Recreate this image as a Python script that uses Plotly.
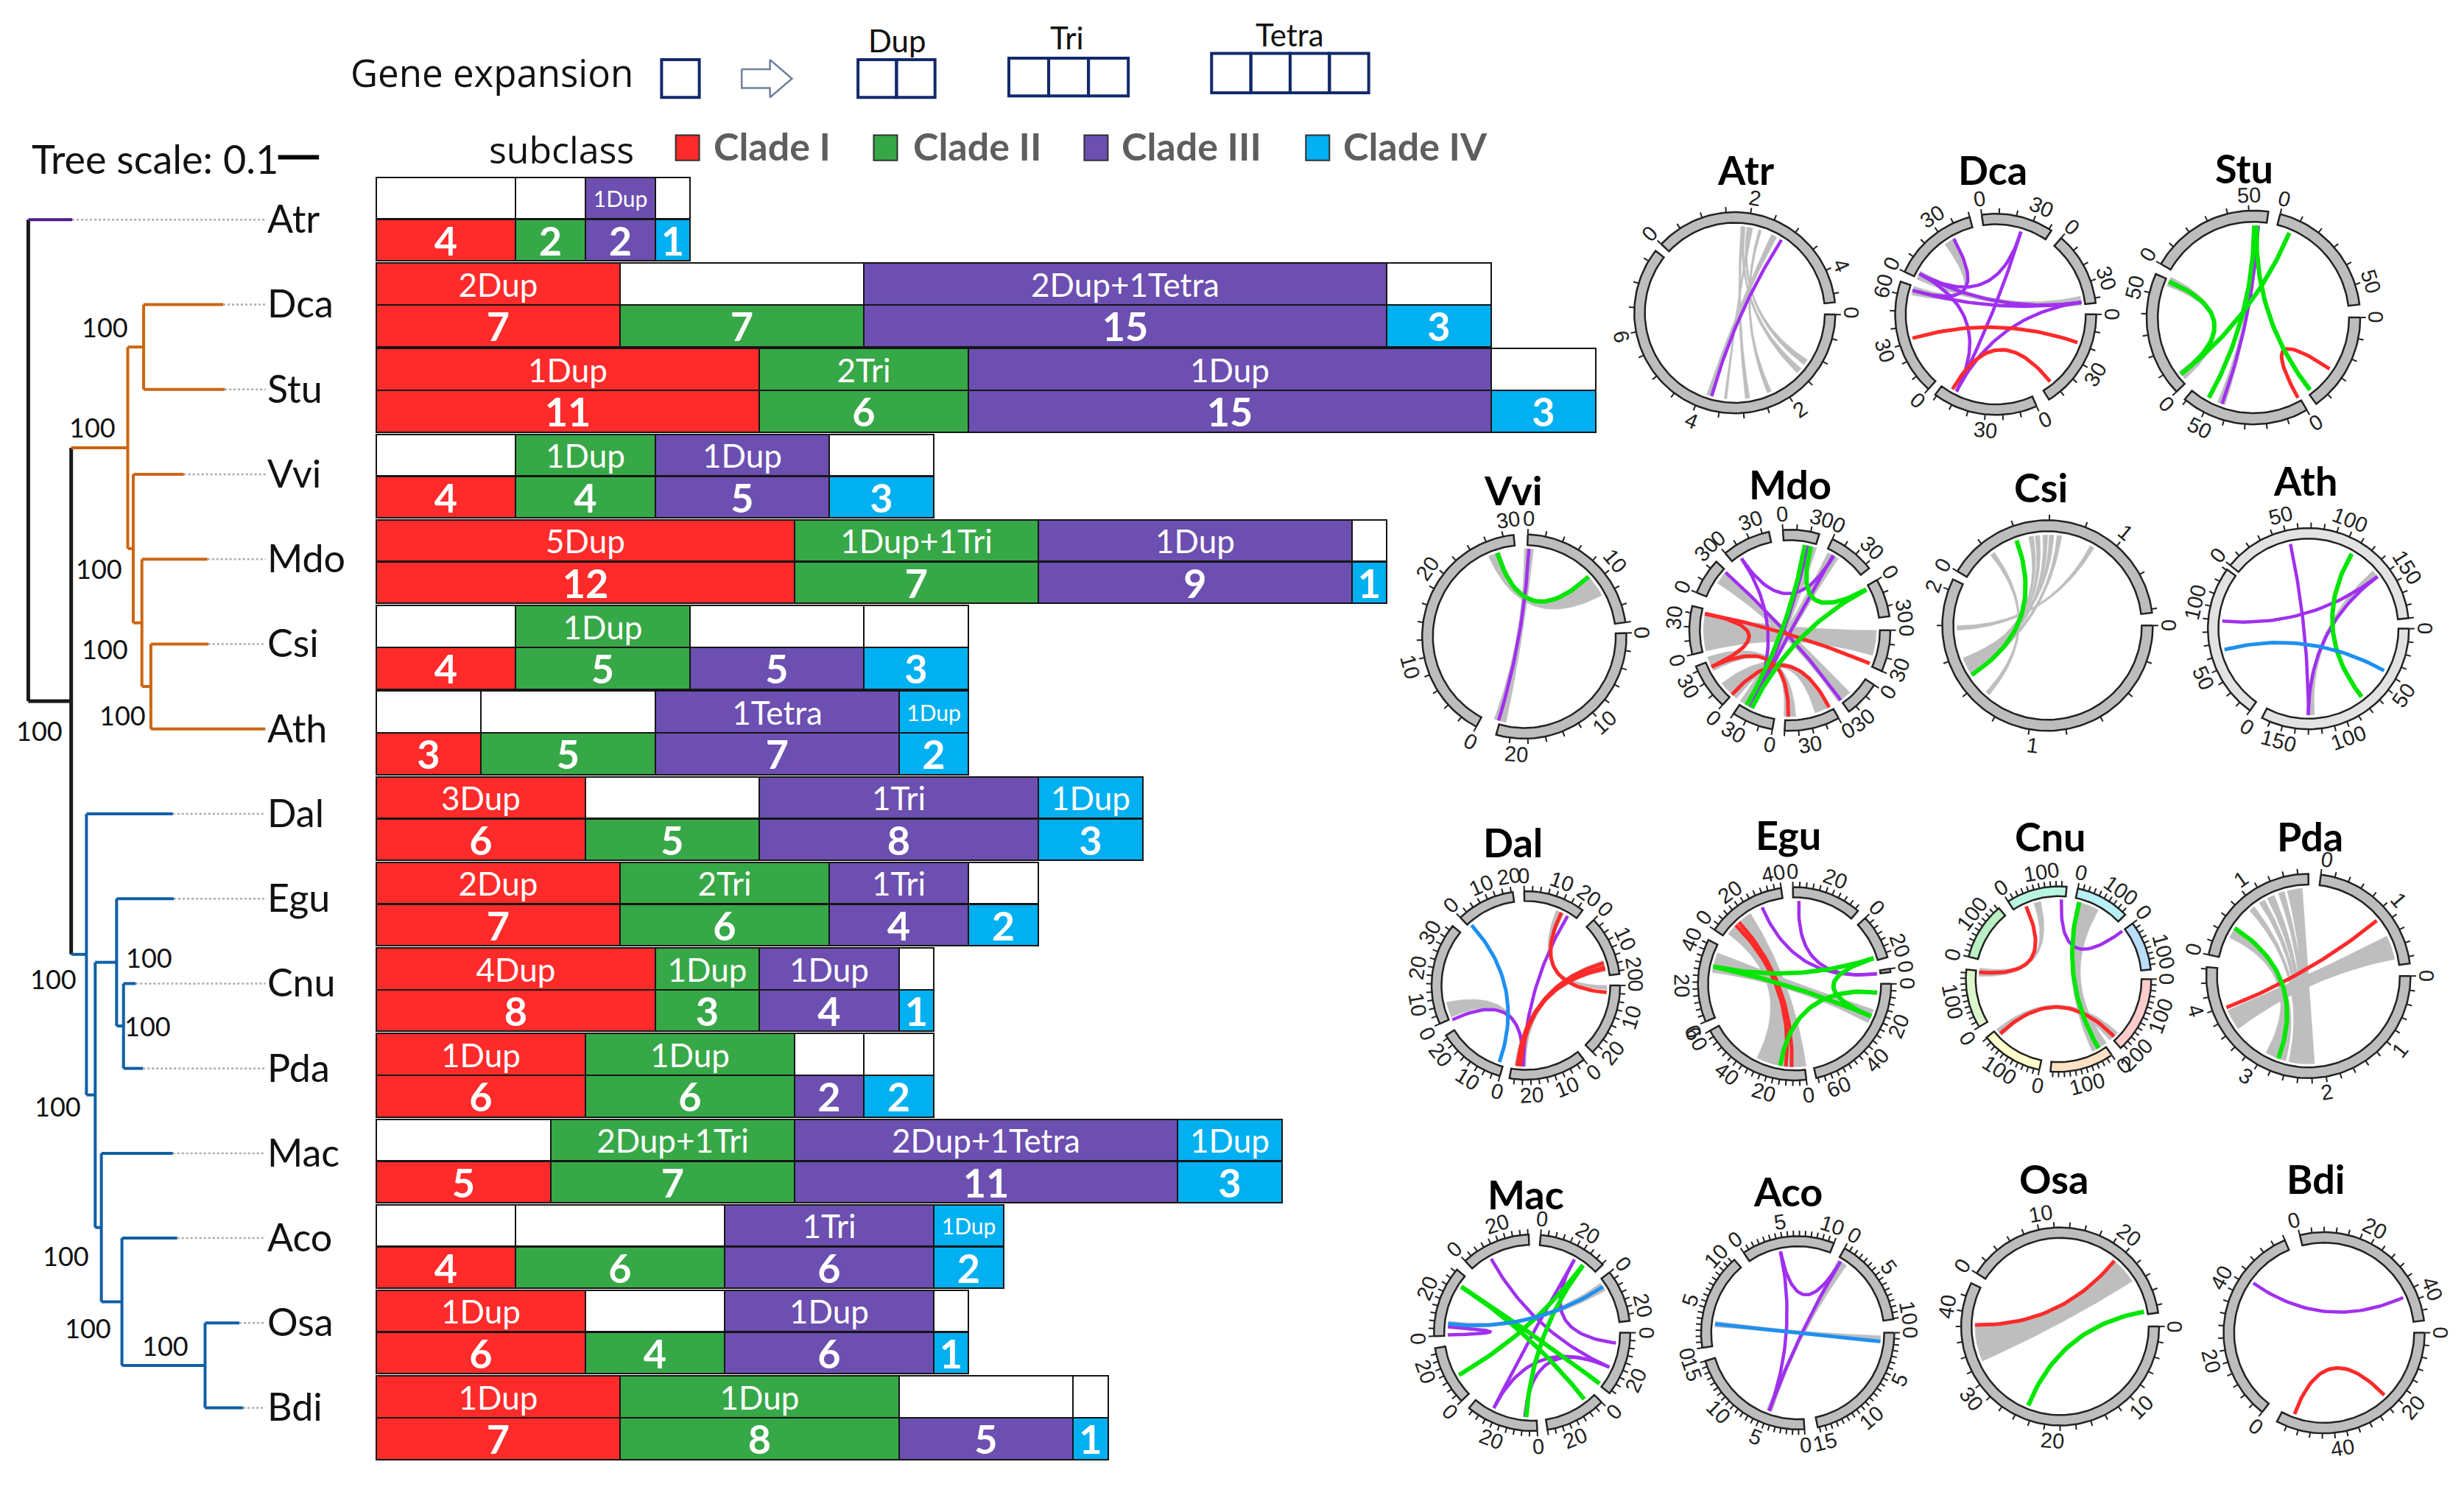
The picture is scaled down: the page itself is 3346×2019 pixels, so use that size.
import math
from collections import defaultdict
import plotly.graph_objects as go

# ------------------------------------------------------------------ data
SPECIES = ["Atr","Dca","Stu","Vvi","Mdo","Csi","Ath","Dal","Egu","Cnu","Pda","Mac","Aco","Osa","Bdi"]
CLADES = ["Clade I","Clade II","Clade III","Clade IV"]
COUNT_I   = [4,7,11,4,12,4,3,6,7,8,6,5,4,6,7]
COUNT_II  = [2,7,6,4,7,5,5,5,6,3,6,7,6,4,8]
COUNT_III = [2,15,15,5,9,5,7,8,4,4,2,11,6,6,5]
COUNT_IV  = [1,3,3,3,1,3,2,3,2,1,2,3,2,1,1]
EXP_I   = ["","2Dup","1Dup","","5Dup","","","3Dup","2Dup","4Dup","1Dup","","","1Dup","1Dup"]
EXP_II  = ["","","2Tri","1Dup","1Dup+1Tri","1Dup","","","2Tri","1Dup","1Dup","2Dup+1Tri","","","1Dup"]
EXP_III = ["1Dup","2Dup+1Tetra","1Dup","1Dup","1Dup","","1Tetra","1Tri","1Tri","1Dup","","2Dup+1Tetra","1Tri","1Dup",""]
EXP_IV  = ["","","","","","","1Dup","1Dup","","","","1Dup","1Dup","",""]

# tree: node -> (branch position, children); leaves -> tip position
TREE_NODES = {
    "root":(18,["Atr","A"]), "A":(45.3,["B","C"]),
    "B":(81.3,["DS","N1"]), "DS":(91.4,["Dca","Stu"]), "N1":(84.8,["Vvi","N2"]),
    "N2":(90.3,["Mdo","CA"]), "CA":(96,["Csi","Ath"]),
    "C":(55,["Dal","D"]), "D":(60.6,["E","G"]), "E":(74.2,["Egu","F"]),
    "F":(78.6,["Cnu","Pda"]), "G":(64.5,["Mac","H"]), "H":(77.6,["Aco","I"]),
    "I":(130.5,["Osa","Bdi"]),
}
TREE_TIPS = {"Atr":46,"Dca":142,"Stu":143,"Vvi":117,"Mdo":132,"Csi":132.5,"Ath":168.7,
             "Dal":110,"Egu":110.6,"Cnu":86.4,"Pda":91,"Mac":110,"Aco":112.8,"Osa":152.3,"Bdi":154.7}
SUPPORT = ["100"]*13

# circos panels: sector spans, tick labels, links (angle, angle, clade) and grey ribbons, in clockwise degrees
C_SECT = {
 "Atr":[(91,308),(313,444)],
 "Dca":[(90,148),(156,217),(222,289),(295,345),(352,393.6),(400.6,443.5)],
 "Stu":[(90,144),(150,220),(226,294),(300,368),(374.5,443)],
 "Vvi":[(88,196),(208,354),(362,442)],
 "Mdo":[(90,114),(123,144),(151,183),(190,214),(222,249),(256,284),(292,313),(320,348),(356,377),(385,412),(420,442)],
 "Csi":[(90,296),(301,443)],
 "Ath":[(90,207.5),(215.5,306),(309,444)],
 "Dal":[(90,135),(142,190),(196,238),(246,309),(316,352),(359,397),(406,443)],
 "Egu":[(90,167),(173,241),(247,297),(304,352),(359,401),(407,434),(441,443)],
 "Cnu":[(90,138),(145,185),(192,231),(239,276),(284,320),(327,365),(372,406),(413,444)],
 "Pda":[(90,275),(282,360),(367,443)],
 "Mac":[(90,128),(135,171),(177,220),(226,261),(268,310),(317,358),(365,406),(412,443)],
 "Aco":[(90,168),(176,253),(261,319),(326,382),(389,442)],
 "Osa":[(90,296),(302.5,442)],
 "Bdi":[(90,208),(218,337),(346,443)],
}
C_TICK_STEP = {"Atr":14,"Dca":10,"Stu":11.5,"Vvi":10,"Mdo":8,"Csi":20,"Ath":7.5,"Dal":5,"Egu":4,
               "Cnu":3.5,"Pda":8,"Mac":4.5,"Aco":3.5,"Osa":9,"Bdi":7}
C_LABELS = {
 "Atr":[(90,"0"),(146,"2"),(202,"4"),(258,"6"),(313,"0"),(10,"2"),(66,"4")],
 "Dca":[(90,"0"),(121,"30"),(155,"0"),(185,"30"),(222,"0"),(252,"30"),(284,"60"),(296,"0"),(327,"30"),(352,"0"),(23,"30"),(41,"0"),(72,"30")],
 "Stu":[(90,"0"),(149.5,"0"),(206,"50"),(225,"0"),(284,"50"),(301,"0"),(358,"50"),(14.5,"0"),(73,"50")],
 "Vvi":[(88,"0"),(137,"10"),(184,"20"),(207,"0"),(255,"10"),(305,"20"),(352,"30"),(2,"0"),(50,"10")],
 "Mdo":[(90,"0"),(110,"30"),(122,"0"),(141,"30"),(150,"0"),(170,"30"),(190,"0"),(209,"30"),(221,"0"),(241,"30"),(255,"0"),(276,"30"),(292,"0"),(314,"30"),(322,"0"),(340,"30"),(356,"0"),(16,"30"),(25,"0"),(45,"30"),(60,"0"),(80.5,"30")],
 "Csi":[(90,"0"),(187,"1"),(289,"2"),(300,"0"),(40,"1")],
 "Ath":[(90,"0"),(125,"50"),(160,"100"),(195,"150"),(212,"0"),(245,"50"),(283,"100"),(309,"0"),(346,"50"),(21,"100"),(58,"150")],
 "Dal":[(90,"0"),(107,"10"),(128,"20"),(142,"0"),(158,"10"),(177,"20"),(195,"0"),(212,"10"),(231,"20"),(244,"0"),(260,"10"),(279,"20"),(299,"30"),(317,"0"),(336,"10"),(351,"20"),(359,"0"),(19,"10"),(35,"20"),(46,"0"),(65,"10"),(81,"20")],
 "Egu":[(81,"0"),(90,"0"),(112,"20"),(133,"40"),(157,"60"),(173,"0"),(196,"20"),(217,"40"),(241,"60"),(245,"0"),(269,"20"),(293,"40"),(306,"0"),(325,"20"),(349,"40"),(359,"0"),(21,"20"),(47,"0"),(70,"20")],
 "Cnu":[(90,"0"),(110,"100"),(134,"200"),(143,"0"),(165,"100"),(191,"0"),(213,"100"),(237,"0"),(258,"100"),(283,"0"),(307,"100"),(328,"0"),(351,"100"),(12,"0"),(35,"100"),(52,"0"),(75,"100")],
 "Pda":[(90,"0"),(129,"1"),(171,"2"),(212,"3"),(253,"4"),(283,"0"),(325,"1"),(9,"0"),(50,"1")],
 "Mac":[(90,"0"),(114.5,"20"),(134,"0"),(158,"20"),(177,"0"),(201,"20"),(226,"0"),(250,"20"),(267,"0"),(293,"20"),(317,"0"),(342,"20"),(5,"0"),(29,"20"),(53,"0"),(76,"20")],
 "Aco":[(90,"0"),(115,"5"),(139,"10"),(166,"15"),(176,"0"),(202,"5"),(225,"10"),(251,"15"),(259,"0"),(287,"5"),(313,"10"),(326,"0"),(351,"5"),(18,"10"),(30,"0"),(54,"5"),(80,"10")],
 "Osa":[(90,"0"),(135,"10"),(184,"20"),(231,"30"),(280,"40"),(302,"0"),(350,"10"),(37,"20")],
 "Bdi":[(90,"0"),(130,"20"),(171,"40"),(216,"0"),(256,"20"),(298,"40"),(345,"0"),(26,"20"),(68,"40")],
}
C_LINKS = {
 "Atr":[(32.6,195.5,3)],
 "Dca":[(254,109,1),(210,141,1),(17,207,3),(17,298,3),(331,286,3),(298,82,3),(298,207,3),(82,207,3),(286,82,3)],
 "Stu":[(0.5,209,2),(3,200,3),(23,232,2),(2,142,2),(293,232,2),(124,151,1)],
 "Vvi":[(3,197,3),(342,47,2)],
 "Mdo":[(281,112.6,1),(281,245,1),(245,181,1),(222,153,1),(312,144,3),(326,30.5,3),(326,207,3),(12,207,3),(30,207,3),(10,210,2),(14,62,2),(62,206,2)],
 "Csi":[(340,237,2)],
 "Ath":[(275,53,3),(348,180,3),(53,180,3),(30,142,2),(256,119,4)],
 "Dal":[(318,199,4),(245,182,3),(31,182,3),(26,95,1),(74,184,1),(77,184,1),(78,186,1)],
 "Egu":[(337,83,3),(3,83,3),(315,186,1),(318,182,1),(282,72,2),(282,113,2),(72,113,2),(96,190,2)],
 "Cnu":[(336,275,1),(2,53,3),(15,150,2),(227,136,1)],
 "Pda":[(51,249,1),(303,200,2)],
 "Mac":[(30,207,3),(331,114,3),(30,97,3),(274,268.5,3),(207,114,3),(185,114,3),(37,184,2),(37,240,2),(303,142,2),(303,127,2),(57,276,4)],
 "Aco":[(348,200,3),(348,31,3),(31,200,3),(276,96,4)],
 "Osa":[(271,39.6,1),(202,80,2)],
 "Bdi":[(305,66,3),(200,136,1)],
}
C_RIBBONS = {
 "Atr":[(4,6,170,173),(10,12,185,187),(16,18,155,158),(25,29,195,199),(5,7,130,134),(8,10,123,127)],
 "Dca":[(294,300,78,84),(283,289,324,330)],
 "Stu":[(290,296,228,234),(0,4,198,203)],
 "Vvi":[(0,6,192,200),(336,344,48,62)],
 "Mdo":[(90,107,256,280),(303,312,136,146),(26,34,205,215),(242,252,176,184),(218,232,152,163),(12,18,205,212)],
 "Csi":[(28,31,267,270),(321,324,220,223),(348,351,244,248),(352,355,241,245),(357,360,239,243),(1,4,246,249),(6,9,237,241)],
 "Ath":[(48,54,176,181)],
 "Dal":[(247,258,180,184),(22,28,90,93),(72,80,180,188)],
 "Egu":[(307,328,172,207),(278,292,108,118)],
 "Cnu":[(14,30,143,155),(225,231,132,140),(342,347,272,278)],
 "Pda":[(346,356,176,184),(340,344,180,186),(332,337,184,189),(326,330,187,191),(318,322,189,193),(63,79,233,247),(296,304,195,209)],
 "Mac":[(54,60,274,278)],
 "Aco":[(29,36,198,202),(92,97,274,278)],
 "Osa":[(40,58,246,271)],
 "Bdi":[],
}

# ------------------------------------------------------------------ layout and style
W, H = 3346, 2019
S = W / 1568                     # canvas units of the overlay axis
OH = H / S
BAR_LEFT, BAR_UNIT = 239.5, 22.17  # overlay position of the bar origin, overlay width per gene
ROW_Y0, ROW_PITCH = 139.5, 54.47
TREE_Y0, TREE_PITCH = 139.8, 54.0
ROW_OFF, ROW_H = 0.245, 0.485
BAR_COL = ["#FF2A2A","#37A847","#6C4FB0","#00B0F0"]
LINK_COL = {1:"#FF2A2A",2:"#00E600",3:"#A030F0",4:"#1E90F0"}
LINK_W = {1:5,2:6,3:4.5,4:5}
FONT = "Lato"
CENTER = {"Atr":(1104,199,64),"Dca":(1270,200,64),"Stu":(1434,202,68),
          "Vvi":(970,405,65),"Mdo":(1139,401,64),"Csi":(1303,398,67),"Ath":(1469,400,64),
          "Dal":(971,627,60),"Egu":(1142,626,61.5),"Cnu":(1310,623,59),"Pda":(1469,621,65),
          "Mac":(975,848,62.5),"Aco":(1144,848,61.5),"Osa":(1311,844,63),"Bdi":(1479,848,64)}
TITLE_POS = {"Atr":(1111,108),"Dca":(1268,108),"Stu":(1428,107),"Vvi":(963,312),"Mdo":(1139,308),
             "Csi":(1299,310),"Ath":(1467,306),"Dal":(963,536),"Egu":(1138,531),"Cnu":(1305,532),
             "Pda":(1470,532),"Mac":(971,760),"Aco":(1138,758),"Osa":(1307,750),"Bdi":(1474,750)}
SECT_FILL = {"Ath":["#E2E2E2"]*3,
             "Cnu":["#FFCCCC","#FFE2C4","#FFFFCC","#DDF7CC","#B9F0C4","#B8F5E2","#B8F0F5","#BBDDF8"]}
SUPPORT_POS = [(67,209),(59,273),(63,363),(67,414),(78,456),(25,466),(95,610),(94,654),(34,624),(37,705),(42,800),(56,846),(105,857)]

fig = go.Figure()
ann = []
def text(x, y, s, size, color="#111111", font=FONT, bold=False, angle=0, anchor="center"):
    ann.append(dict(x=x, y=y, xref="x2", yref="y2", text=f"<b>{s}</b>" if bold else s, showarrow=False,
                    textangle=angle, xanchor=anchor, yanchor="middle",
                    font=dict(family=font, size=size, color=color)))
def line2(xs, ys, color, width, dash=None, fill=None, fillcolor=None):
    fig.add_trace(go.Scatter(x=xs, y=ys, xaxis="x2", yaxis="y2", mode="lines", hoverinfo="skip", showlegend=False,
                             line=dict(color=color, width=width, dash=dash), fill=fill, fillcolor=fillcolor))

# ------------------------------------------------------------------ bars
counts = [COUNT_I, COUNT_II, COUNT_III, COUNT_IV]
labels = [EXP_I, EXP_II, EXP_III, EXP_IV]
row = list(range(len(SPECIES)))
for c in range(4):
    fig.add_trace(go.Bar(orientation="h", x=counts[c], y=[r-ROW_OFF for r in row], width=ROW_H,
        marker=dict(color=[BAR_COL[c] if l else "#FFFFFF" for l in labels[c]], line=dict(color="#151515", width=2)),
        text=labels[c], textposition="inside", insidetextanchor="middle", textangle=0, constraintext="none",
        textfont=dict(family=FONT, color="white", size=[30 if n <= 2 else 44 for n in counts[c]]),
        hoverinfo="skip", showlegend=False))
for c in range(4):
    fig.add_trace(go.Bar(orientation="h", x=counts[c], y=[r+ROW_OFF for r in row], width=ROW_H,
        marker=dict(color=BAR_COL[c], line=dict(color="#151515", width=2)),
        text=[str(v) for v in counts[c]], textposition="inside", insidetextanchor="middle", textangle=0, constraintext="none",
        textfont=dict(family=FONT, color="white", size=54, weight="bold"),
        hoverinfo="skip", showlegend=False))

# ------------------------------------------------------------------ tree
leaf_y = {s: TREE_Y0 + TREE_PITCH*i for i, s in enumerate(SPECIES)}
def node_y(n):
    if n in leaf_y: return leaf_y[n]
    kids = TREE_NODES[n][1]
    return (node_y(kids[0]) + node_y(kids[1])) / 2
def tree_col(n):
    if n in ("root","A"): return "#1A1A1A"
    if n == "Atr": return "#4B1E8C"
    orange = {"B","DS","N1","N2","CA","Dca","Stu","Vvi","Mdo","Csi","Ath"}
    return "#CC6610" if n in orange else "#0F5FA6"
segs = defaultdict(list)
for n, (x, kids) in TREE_NODES.items():
    ys = [node_y(k) for k in kids]
    segs[tree_col(n)].append(([x, x], ys))
    for k, yk in zip(kids, ys):
        xe = TREE_NODES[k][0] if k in TREE_NODES else TREE_TIPS[k]
        segs[tree_col(k)].append(([x, xe], [yk, yk]))
for col, parts in segs.items():
    xs, ys = [], []
    for a, b in parts:
        xs += a + [None]; ys += b + [None]
    line2(xs, ys, col, 5 if col == "#1A1A1A" else 4)
xs, ys = [], []
for s in SPECIES:
    xs += [TREE_TIPS[s], 169, None]; ys += [leaf_y[s], leaf_y[s], None]
line2(xs, ys, "#ABABAB", 2.5, dash="3px,3px")
for s in SPECIES:
    text(169, leaf_y[s]-1, s, 52, anchor="left")
for (x, y), s in zip(SUPPORT_POS, SUPPORT):
    text(x, y-1, s, 36)

# ------------------------------------------------------------------ header
text(222, 46, "Gene expansion", 51, font="Open Sans", anchor="left")
text(19, 101, "Tree scale: 0.1", 54, anchor="left")
text(310, 95, "subclass", 50, font="Open Sans", anchor="left")
line2([177,203],[100,100],"#000000",6)
for (x, y, s, sz) in [(571,26,"Dup",42),(679,24,"Tri",42),(821,22,"Tetra",42)]:
    text(x, y, s, sz)
shapes = []
def box(x0, y0, x1, y1, line, fill="rgba(0,0,0,0)", w=4):
    shapes.append(dict(type="rect", xref="x2", yref="y2", x0=x0, y0=y0, x1=x1, y1=y1,
                       line=dict(color=line, width=w), fillcolor=fill))
NAVY = "#12296B"
for x0, x1, y0, y1, n in [(421,445,38,62,1),(546,595,38,62,2),(642,718,37,61,3),(771,871,34,59,4)]:
    for k in range(n):
        box(x0+(x1-x0)*k/n, y0, x0+(x1-x0)*(k+1)/n, y1, NAVY)
line2([472,490,490,504,490,490,472,472],[44,44,38,50,62,56,56,44],"#6E7F9E",2.5)
for x, name, col, tx in zip([430,556,690,831], CLADES, BAR_COL, [453,580,713,854]):
    box(x, 86, x+15, 102, "#303030", fill=col, w=2)
    text(tx, 93, name, 52, color="#5E5E5E", bold=True, anchor="left")

# ------------------------------------------------------------------ circos
N_SAMPLE = 40
def pt(cx, cy, r, deg):
    a = math.radians(deg)
    return cx + r*math.sin(a), cy - r*math.cos(a)
def bez(cx, cy, p0, p1):
    out = []
    for k in range(N_SAMPLE+1):
        t = k/N_SAMPLE
        out.append(((1-t)**2*p0[0] + 2*t*(1-t)*cx + t**2*p1[0], (1-t)**2*p0[1] + 2*t*(1-t)*cy + t**2*p1[1]))
    return out
ring_polys = defaultdict(list)
rib_x, rib_y = [], []
link_lines = defaultdict(lambda: ([], []))
tick_x, tick_y = [], []
for name, (cx, cy, R) in CENTER.items():
    Ri, Re = 0.895*R, 0.86*R
    step = C_TICK_STEP[name]
    fills = SECT_FILL.get(name)
    for i, (a0, a1) in enumerate(C_SECT[name]):
        n = max(4, int((a1-a0)/2))
        arc = [a0+(a1-a0)*k/n for k in range(n+1)]
        poly = [pt(cx,cy,R,d) for d in arc] + [pt(cx,cy,Ri,d) for d in reversed(arc)]
        poly.append(poly[0])
        ring_polys[fills[i] if fills else "#BDBDBD"].append(poly)
        d = a0
        while d <= a1 + 0.01:
            p, q = pt(cx,cy,R,d), pt(cx,cy,R+3.5,d)
            tick_x += [p[0], q[0], None]; tick_y += [p[1], q[1], None]
            d += step
    for d, s in C_LABELS[name]:
        x, y = pt(cx, cy, R+10, d)
        text(x, y, s, 29, color="#222222", font="Liberation Sans", angle=((d+90) % 180) - 90)
    for a1, a2, b1, b2 in C_RIBBONS[name]:
        A = [pt(cx,cy,Re,a1+(a2-a1)*k/6) for k in range(7)]
        B = [pt(cx,cy,Re,b1+(b2-b1)*k/6) for k in range(7)]
        poly = A + bez(cx,cy,A[-1],B[0]) + B + bez(cx,cy,B[-1],A[0])
        rib_x += [p[0] for p in poly] + [None]; rib_y += [p[1] for p in poly] + [None]
    for a, b, c in C_LINKS[name]:
        curve = bez(cx,cy,pt(cx,cy,Re,a),pt(cx,cy,Re,b))
        lx, ly = link_lines[c]
        lx += [p[0] for p in curve] + [None]; ly += [p[1] for p in curve] + [None]
    text(*TITLE_POS[name], name, 54, color="#000000", bold=True)

line2(rib_x, rib_y, "#BEBEBE", 0.5, fill="toself", fillcolor="#BEBEBE")
for c in (3, 1, 2, 4):
    line2(link_lines[c][0], link_lines[c][1], LINK_COL[c], LINK_W[c])
for col, polys in ring_polys.items():
    xs, ys = [], []
    for poly in polys:
        xs += [p[0] for p in poly] + [None]; ys += [p[1] for p in poly] + [None]
    line2(xs, ys, "#222222", 2.5, fill="toself", fillcolor=col)
line2(tick_x, tick_y, "#222222", 2)

# ------------------------------------------------------------------ axes
fig.update_layout(
    width=W, height=H, margin=dict(l=0, r=0, t=0, b=0), paper_bgcolor="white", plot_bgcolor="rgba(0,0,0,0)",
    barmode="stack", bargap=0, showlegend=False, annotations=ann, shapes=shapes,
    xaxis=dict(visible=False, domain=[0,1], range=[-BAR_LEFT/BAR_UNIT, (W/S-BAR_LEFT)/BAR_UNIT]),
    yaxis=dict(visible=False, domain=[0,1], range=[(OH-ROW_Y0)/ROW_PITCH, -ROW_Y0/ROW_PITCH]),
    xaxis2=dict(visible=False, domain=[0,1], range=[0, W/S], anchor="y2"),
    yaxis2=dict(visible=False, domain=[0,1], range=[OH, 0], anchor="x2"),
)
fig.write_html("out.html", config={"displayModeBar": False},
               post_script="document.body.style.margin='0';document.body.style.overflow='hidden';")
